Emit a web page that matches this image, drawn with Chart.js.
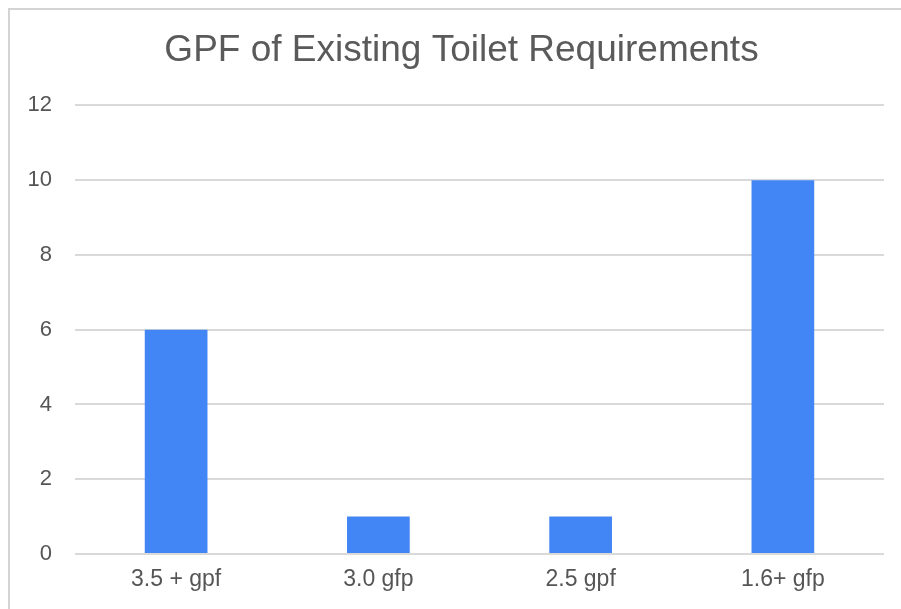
<!DOCTYPE html>
<html>
<head>
<meta charset="utf-8">
<script src="https://cdn.jsdelivr.net/npm/chart.js@4"></script>
<style>
    html, body {
        margin: 0;
        padding: 0;
        background: #fff;
    }
    .frame {
        position: absolute;
        left: 8px;
        top: 8px;
        width: 893px;
        height: 601px;
        border-top: 2px solid #d3d3d3;
        border-left: 2px solid #d3d3d3;
        box-sizing: border-box;
    }
    .frame canvas {
        display: block;
    }
</style>
</head>
<body>
<div class="frame">
    <canvas id="chart" width="891" height="599"></canvas>
</div>
<script>
// GPF OF EXISTING TOILET REQUIREMENTS

const categories = ["3.5 + gpf", "3.0 gfp", "2.5 gpf", "1.6+ gfp"];
const counts = [6, 1, 1, 10];
const yTicks = [0, 2, 4, 6, 8, 10, 12];

// title sits a bit right of the canvas centre in the original
const shiftTitle = {
    id: "shiftTitle",
    afterLayout(chart) {
        if (chart.titleBlock) {
            chart.titleBlock.left += 29;
        }
    }
};

function renderChart() {
    const canvas = document.getElementById("chart");

    if (!canvas) {
        console.log("Chart canvas not found");
        return;
    }

    new Chart(canvas, {
        type: "bar",
        data: {
            labels: categories,
            datasets: [{
                label: "Count",
                data: counts,
                backgroundColor: "#4285F4",
                barPercentage: 0.62,
                categoryPercentage: 0.5
            }]
        },
        options: {
            responsive: false,
            animation: false,
            layout: {
                padding: { top: 0, right: 17, bottom: 0, left: 0 }
            },
            plugins: {
                legend: { display: false },
                tooltip: { enabled: false },
                title: {
                    display: true,
                    text: "GPF of Existing Toilet Requirements",
                    color: "#5a5a5a",
                    font: { family: "Liberation Sans", size: 37, weight: "normal" },
                    padding: { top: 19, bottom: 32 }
                }
            },
            scales: {
                x: {
                    grid: { display: false, drawTicks: false },
                    border: { display: false },
                    ticks: {
                        color: "#555",
                        font: { family: "Liberation Sans", size: 23 },
                        padding: 12
                    },
                    afterFit: scale => { scale.height = 55; }
                },
                y: {
                    min: yTicks[0],
                    max: yTicks[yTicks.length - 1],
                    afterBuildTicks: scale => {
                        scale.ticks = yTicks.map(v => ({ value: v }));
                    },
                    grid: { color: "#d9d9d9", lineWidth: 2, drawTicks: false },
                    border: { display: false },
                    ticks: {
                        color: "#555",
                        font: { family: "Liberation Sans", size: 22 },
                        padding: 23
                    },
                    afterFit: scale => { scale.width = 65; }
                }
            }
        },
        plugins: [shiftTitle]
    });
}

renderChart();
</script>
</body>
</html>
